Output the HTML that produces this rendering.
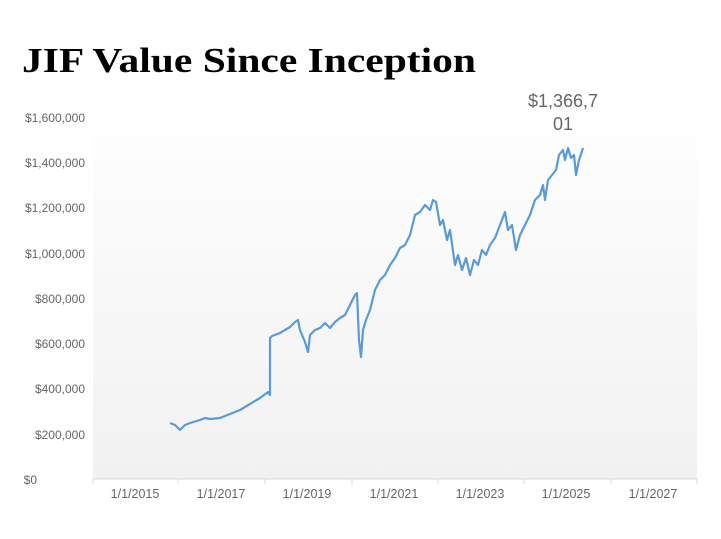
<!DOCTYPE html>
<html><head><meta charset="utf-8"><style>
body{margin:0;background:#fff;width:721px;height:534px;overflow:hidden}
</style></head><body>
<svg width="721" height="534" xmlns="http://www.w3.org/2000/svg">
<defs><linearGradient id="g" x1="0" y1="0" x2="0" y2="1">
<stop offset="0" stop-color="#fff"/><stop offset="1" stop-color="#f1f1f1"/></linearGradient></defs>
<text x="22" y="72" font-family="Liberation Serif,serif" font-weight="bold" font-size="35" fill="#000" textLength="454" lengthAdjust="spacingAndGlyphs">JIF Value Since Inception</text>
<rect x="93" y="95" width="604" height="384" fill="url(#g)"/>
<line x1="93" y1="479" x2="697" y2="479" stroke="#d8d8d8" stroke-width="1"/>
<g stroke="#d8d8d8"><line x1="93" y1="479" x2="93" y2="484"/><line x1="178" y1="479" x2="178" y2="484"/><line x1="265" y1="479" x2="265" y2="484"/><line x1="352" y1="479" x2="352" y2="484"/><line x1="438" y1="479" x2="438" y2="484"/><line x1="524" y1="479" x2="524" y2="484"/><line x1="611" y1="479" x2="611" y2="484"/><line x1="697" y1="479" x2="697" y2="484"/></g>
<g font-family="Liberation Sans,sans-serif" font-size="12" fill="#666" text-anchor="end">
<text x="85" y="122">$1,600,000</text><text x="85" y="167">$1,400,000</text><text x="85" y="212">$1,200,000</text><text x="85" y="258">$1,000,000</text><text x="85" y="303">$800,000</text><text x="85" y="348">$600,000</text><text x="85" y="393">$400,000</text><text x="85" y="439">$200,000</text><text x="37" y="484">$0</text>
</g>
<g font-family="Liberation Sans,sans-serif" font-size="12.5" fill="#666" text-anchor="middle">
<text x="135" y="498">1/1/2015</text><text x="221" y="498">1/1/2017</text><text x="307" y="498">1/1/2019</text><text x="394" y="498">1/1/2021</text><text x="480" y="498">1/1/2023</text><text x="566" y="498">1/1/2025</text><text x="653" y="498">1/1/2027</text>
</g>
<g font-family="Liberation Sans,sans-serif" font-size="18" fill="#666" text-anchor="middle">
<text x="563" y="107">$1,366,7</text><text x="563" y="130">01</text></g>
<polyline fill="none" stroke="#5b9bd5" stroke-width="2.2" stroke-linejoin="round" points="170,423 175,425 180,430 185,425 190,423 200,420 205,418 210,419 220,418 230,414 240,410 250,404 260,398 268,392 270,395 270,338 272,336 280,333 285,330 290,327 295,322 298,320 300,330 305,342 308,352 310,335 315,330 320,328 325,323 330,328 335,322 340,318 345,315 350,305 355,295 357,293 359,340 361,357 363,330 366,320 370,310 375,290 380,280 385,275 390,265 395,258 400,248 405,245 410,235 415,215 420,212 425,205 430,210 433,200 436,202 440,225 443,220 447,240 450,230 455,265 458,255 462,270 466,258 470,275 474,260 478,265 482,250 486,255 490,245 495,238 500,225 505,212 508,230 512,225 516,250 520,235 525,225 530,215 535,200 540,195 543,185 545,200 548,180 552,175 556,170 559,155 563,150 565,160 568,148 571,158 574,155 576,175 579,160 583,148"/>
</svg>
</body></html>
